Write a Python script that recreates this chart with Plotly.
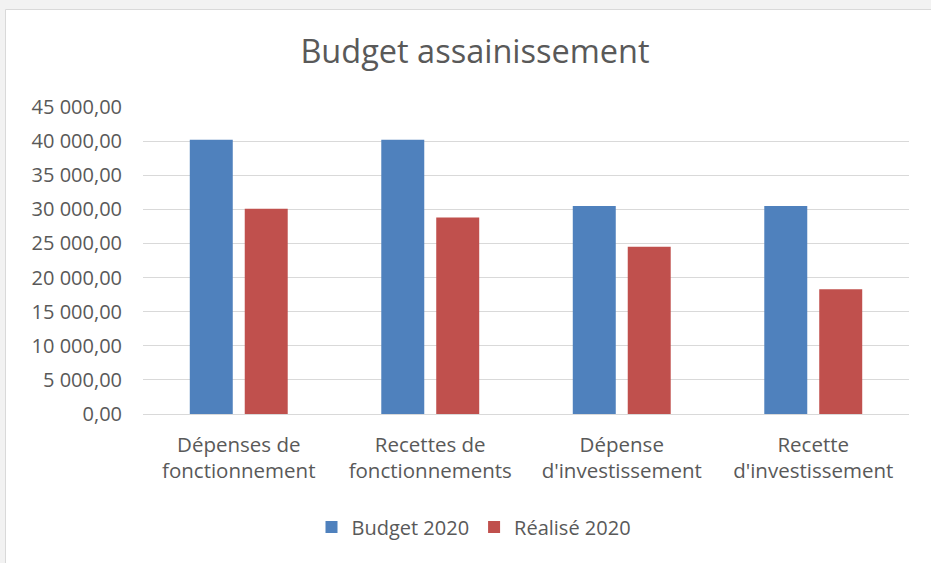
import plotly.graph_objects as go

categories = ["Dépenses de<br>fonctionnement", "Recettes de<br>fonctionnements",
              "Dépense<br>d'investissement", "Recette<br>d'investissement"]
budget_2020 = [40200, 40200, 30500, 30500]
realise_2020 = [30100, 28800, 24500, 18300]
y_ticks = [0, 5000, 10000, 15000, 20000, 25000, 30000, 35000, 40000, 45000]

FONT = "Open Sans"
TXT = "#595959"

fig = go.Figure()
fig.add_bar(name="Budget 2020", x=categories, y=budget_2020, marker_color="#4f81bd",
            marker_line_width=0)
fig.add_bar(name="Réalisé 2020", x=categories, y=realise_2020, marker_color="#c0504d",
            marker_line_width=0)

# plot area: x 143..909, y 107..414
fig.update_layout(
    width=931, height=563,
    margin=dict(l=143, r=22, t=107, b=149, autoexpand=False),
    paper_bgcolor="#f2f2f2", plot_bgcolor="white",
    separators=", ",
    barmode="group", bargap=0.426, bargroupgap=0.218,
    font=dict(family=FONT, color=TXT, size=20),
    title=dict(text="Budget assainissement", x=475 / 931, xref="container", xanchor="center",
               y=1 - 52 / 563, yanchor="middle", yref="container",
               font=dict(size=32.5, color=TXT, family=FONT)),
    showlegend=True,
    legend=dict(orientation="h", x=474 / 931, xref="container", xanchor="center",
                y=1 - 527 / 563, yref="container", yanchor="middle",
                font=dict(size=20, color=TXT), itemsizing="constant",
                itemwidth=30, bgcolor="rgba(0,0,0,0)"),
    shapes=[dict(type="rect", xref="paper", yref="paper", layer="below",
                 x0=(5.5 - 143) / 766, x1=(940 - 143) / 766,
                 y0=(414 - 570) / 307, y1=(414 - 9.5) / 307,
                 fillcolor="white", line=dict(color="#d9d9d9", width=1))],
)
fig.update_yaxes(range=[0, 45000], tickvals=y_ticks, tickformat=",.2f",
                 showgrid=True, gridcolor="#d9d9d9", gridwidth=1,
                 zeroline=False, showline=False, ticks="", ticklabelstandoff=20,
                 tickfont=dict(size=20, color=TXT))
fig.update_xaxes(showline=True, linecolor="#d9d9d9", linewidth=1, ticks="",
                 ticklabelstandoff=12, tickfont=dict(size=20.5, color=TXT))

fig.write_html("out.html", config={"displayModeBar": False},
               post_script="document.body.style.margin='0';")
